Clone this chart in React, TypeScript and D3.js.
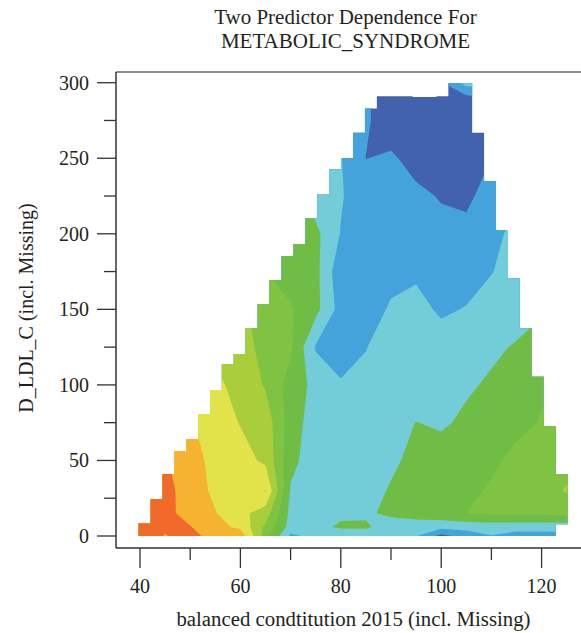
import * as d3 from "d3";
import { useMemo } from "react";

// grid nodes of the fitted surface
const xNodes = [40, 45, 50, 55, 60, 65, 70, 75, 80, 85, 90, 95, 100, 105, 110, 115, 120, 125];
const yNodes = [0, 6, 15, 30, 50, 75, 100, 125, 150, 175, 200, 225, 250, 275, 290, 300];

// surface level, one row per y node (x = 40 .. 125)
const zAt0 = [9.6, 8.95, 9.4, 8.5, 8.6, 5.5, 2.8, 3.3, 3.3, 3.4, 3.3, 3.05, 1.7, 2.4, 2.95, 2.6, 2.6, 2.7];
const zAt6 = [9.6, 9.15, 9.05, 8.3, 7.8, 5.8, 3.6, 3.7, 4.15, 4.15, 3.5, 3.5, 3.3, 3.4, 3.5, 3.4, 3.4, 3.4];
const zAt15 = [9.6, 9.3, 8.6, 8.05, 7.3, 6.5, 3.7, 3.5, 3.8, 3.85, 4.2, 4.4, 4.7, 5.0, 5.15, 5.2, 5.2, 5.3];
const zAt30 = [9.7, 9.35, 8.5, 7.8, 7.4, 8.05, 3.9, 3.5, 3.5, 3.6, 4.1, 4.4, 4.6, 4.8, 5.1, 5.35, 5.6, 6.1];
const zAt50 = [9.3, 9.1, 8.4, 7.7, 7.4, 6.8, 4.3, 3.4, 3.3, 3.4, 3.8, 4.3, 4.5, 4.6, 4.85, 5.2, 5.4, 5.6];
const zAt75 = [9.0, 8.6, 8.1, 7.5, 6.95, 6.6, 4.5, 3.5, 3.3, 3.3, 3.6, 4.02, 3.85, 4.2, 4.5, 4.8, 5.05, 5.3];
const zAt100 = [8.5, 8.2, 7.8, 7.2, 6.7, 5.9, 4.6, 3.7, 3.1, 3.15, 3.2, 3.4, 3.6, 3.85, 4.15, 4.5, 4.9, 5.2];
const zAt125 = [8.0, 7.6, 7.2, 6.8, 6.5, 5.6, 5.15, 2.9, 2.5, 2.98, 3.3, 3.4, 3.45, 3.5, 3.8, 4.1, 4.4, 4.7];
const zAt150 = [7.5, 7.2, 6.9, 6.6, 6.2, 5.6, 5.1, 4.3, 2.6, 2.6, 3.1, 3.3, 2.85, 3.05, 3.3, 3.5, 3.9, 4.2];
const zAt175 = [7.2, 6.9, 6.6, 6.3, 5.9, 5.0, 4.6, 4.3, 2.3, 2.4, 2.75, 2.85, 2.6, 2.6, 2.97, 3.3, 3.6, 3.9];
const zAt200 = [7.0, 6.7, 6.4, 6.1, 5.7, 5.2, 4.6, 4.25, 2.95, 2.4, 2.25, 2.3, 2.2, 2.2, 2.6, 3.4, 3.7, 4.0];
const zAt225 = [6.8, 6.5, 6.2, 5.8, 5.3, 4.8, 4.2, 3.5, 3.1, 2.3, 2.1, 2.15, 1.95, 1.85, 2.3, 2.8, 3.2, 3.5];
const zAt250 = [6.6, 6.2, 5.8, 5.3, 4.8, 4.2, 3.6, 3.1, 3.05, 1.99, 2.1, 1.75, 1.6, 1.6, 2.0, 2.6, 3.0, 3.3];
const zAt275 = [6.4, 6.0, 5.5, 5.0, 4.5, 3.9, 3.4, 3.0, 2.9, 2.1, 1.6, 1.5, 1.45, 1.5, 1.9, 2.5, 2.9, 3.2];
const zAt290 = [6.3, 5.9, 5.4, 4.9, 4.4, 3.85, 3.35, 2.95, 2.6, 2.1, 1.6, 1.5, 1.5, 1.7, 2.0, 2.6, 3.0, 3.3];
const zAt300 = [6.2, 5.8, 5.3, 4.8, 4.3, 3.8, 3.3, 2.9, 2.5, 2.1, 1.8, 1.7, 1.9, 3.4, 3.5, 3.4, 3.4, 3.5];
const zRows = [zAt0, zAt6, zAt15, zAt30, zAt50, zAt75, zAt100, zAt125, zAt150, zAt175, zAt200, zAt225, zAt250, zAt275, zAt290, zAt300];

// staircase of the data support: columns of equal width, top / bottom per column
const colStart = 39.7;
const colWidth = 2.374;
const colTops = [8.4, 24.5, 41, 56.3, 64.2, 80.7, 96.6, 113.8, 120.4, 137.5, 153.5, 169.4, 185.3, 193.2, 210.3, 226.3, 242.7, 250, 266.9, 283, 291, 291, 291, 290.5, 290.5, 291, 299.6, 299.6, 266.9, 235, 202.5, 170.5, 137.5, 105.4, 72.8, 41];
const colBottoms = [0, 0, 0, 0, 0, 0, 0, 0, 0, 0, 0, 0, 0, 0, 0, 0, 0, 0, 0, 0, 0, 0, 0, 0, 0, 0, 0, 0, 0, 0, 0, 0, 0, 0, 0, 7.7];

const levelBreaks = [2, 3, 4, 5, 6, 7, 8, 9];
const levelColors = ["#4262ad", "#45a3db", "#73cdd8", "#70bd45", "#80c242", "#a9cd3b", "#e2e24b", "#f6b32f", "#f26a2b"];

const xTicks = [40, 50, 60, 70, 80, 90, 100, 110, 120];
const xLabels = [40, 60, 80, 100, 120];
const yTicks = [0, 25, 50, 75, 100, 125, 150, 175, 200, 225, 250, 275, 300];
const yLabels = [0, 50, 100, 150, 200, 250, 300];

const W = 581, H = 633;
const left = 116, top = 72, bottom = 548, right = 590;
const font = "'Liberation Serif', 'Times New Roman', serif";
const ink = "#231f20";

const App = () => {
  const x = d3.scaleLinear().domain([40, 120]).range([140, 541.6]);
  const y = d3.scaleLinear().domain([0, 300]).range([536, 82.7]);

  const { bands, maskPath } = useMemo(() => {
    const n = xNodes.length, m = yNodes.length;
    const values: number[] = [];
    zRows.forEach(row => row.forEach(v => values.push(v)));
    const gx = d3.scaleLinear().domain(xNodes.map((_, i) => i + 0.5)).range(xNodes);
    const gy = d3.scaleLinear().domain(yNodes.map((_, i) => i + 0.5)).range(yNodes);
    const proj = d3.geoTransform({
      point(px: number, py: number) {
        (this as any).stream.point(x(gx(px)), y(gy(py)));
      }
    });
    const path = d3.geoPath(proj);
    const cs = d3.contours().size([n, m]).thresholds(levelBreaks)(values);
    const bands = cs.map((c, i) => ({ d: path(c as any) || "", fill: levelColors[i + 1] }));

    const pts: [number, number][] = [];
    colTops.forEach((t, c) => {
      const x0 = colStart + c * colWidth;
      pts.push([x(x0), y(t)], [x(x0 + colWidth), y(t)]);
    });
    for (let c = colTops.length - 1; c >= 0; c--) {
      const x0 = colStart + c * colWidth;
      pts.push([x(x0 + colWidth), y(colBottoms[c])], [x(x0), y(colBottoms[c])]);
    }
    const maskPath = (d3.line()(pts) || "") + "Z";
    return { bands, maskPath };
  }, []);

  return (
    <svg width={W} height={H} style={{ position: "fixed", left: 0, top: 0, background: "#fff" }}>
      <defs>
        <clipPath id="support">
          <path d={maskPath} />
        </clipPath>
      </defs>
      <g clipPath="url(#support)">
        <rect x={left} y={top} width={right - left} height={bottom - top} fill={levelColors[0]} />
        {bands.map((b, i) => (
          <path key={i} d={b.d} fill={b.fill} fillRule="evenodd" />
        ))}
      </g>

      {/* frame */}
      <line x1={left} x2={right} y1={top} y2={top} stroke="#6a6a6a" strokeWidth={1.5} />
      <line x1={left} x2={left} y1={top} y2={bottom} stroke="#333" strokeWidth={1.5} />
      <line x1={left} x2={right} y1={bottom} y2={bottom} stroke="#333" strokeWidth={1.5} />

      {xTicks.map(t => (
        <line key={"xt" + t} x1={x(t)} x2={x(t)} y1={bottom} y2={bottom + (xLabels.includes(t) ? 20 : 12)} stroke="#333" strokeWidth={1.3} />
      ))}
      {xLabels.map(t => (
        <text key={"xl" + t} x={x(t)} y={593} textAnchor="middle" fontFamily={font} fontSize={20} fill={ink}>{t}</text>
      ))}
      {yTicks.map(t => (
        <line key={"yt" + t} x1={left - (yLabels.includes(t) ? 19 : 12)} x2={left} y1={y(t)} y2={y(t)} stroke="#333" strokeWidth={1.3} />
      ))}
      {yLabels.map(t => (
        <text key={"yl" + t} x={89} y={y(t)} dy="0.35em" textAnchor="end" fontFamily={font} fontSize={20} fill={ink}>{t}</text>
      ))}

      <text x={353.5} y={626} textAnchor="middle" fontFamily={font} fontSize={20.8} fill={ink}>balanced condtitution 2015 (incl. Missing)</text>
      <text transform="translate(33,308) rotate(-90)" textAnchor="middle" fontFamily={font} fontSize={20} fill={ink}>D_LDL_C (incl. Missing)</text>

      <text x={345.5} y={24} textAnchor="middle" fontFamily={font} fontSize={21} fill={ink}>Two Predictor Dependence For</text>
      <text x={345.5} y={47.5} textAnchor="middle" fontFamily={font} fontSize={21} fill={ink}>METABOLIC_SYNDROME</text>
    </svg>
  );
};

export default App;
